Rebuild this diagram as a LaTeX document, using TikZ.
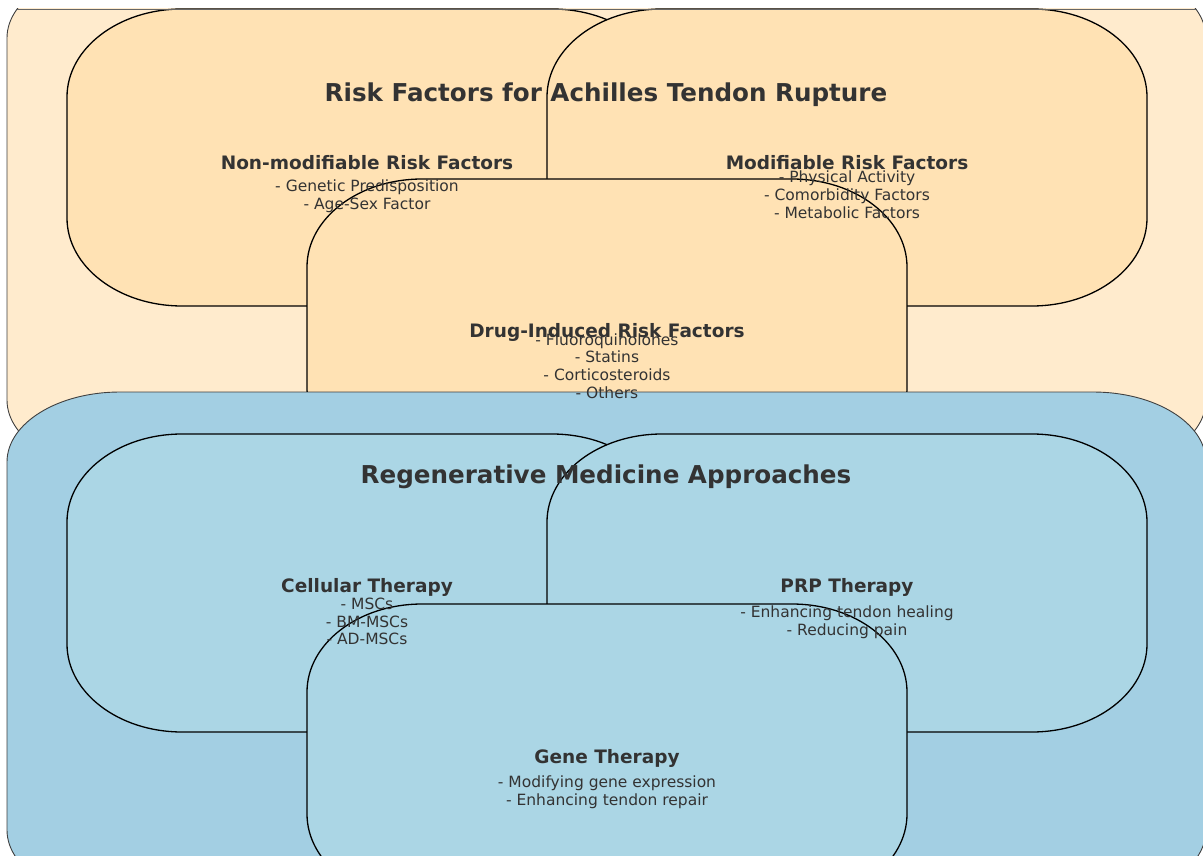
\documentclass[tikz,border=0pt]{standalone}
\usepackage{fontspec}
\setmainfont{DejaVu Sans}
\definecolor{orouter}{RGB}{255,235,205}
\definecolor{orinner}{RGB}{255,226,180}
\definecolor{blouter}{RGB}{163,207,227}
\definecolor{blinner}{RGB}{171,214,229}
\definecolor{ink}{RGB}{51,51,51}
% rounded box with elliptical corners: style, x1, y1, x2, y2, rx, ry
\newcommand\rbox[7]{%
  \path[#1] (#2+#6,#3) -- (#4-#6,#3)
    .. controls (#4-0.448*#6,#3) and (#4,#3+0.448*#7) .. (#4,#3+#7)
    -- (#4,#5-#7)
    .. controls (#4,#5-0.448*#7) and (#4-0.448*#6,#5) .. (#4-#6,#5)
    -- (#2+#6,#5)
    .. controls (#2+0.448*#6,#5) and (#2,#5-0.448*#7) .. (#2,#5-#7)
    -- (#2,#3+#7)
    .. controls (#2,#3+0.448*#7) and (#2+0.448*#6,#3) .. (#2+#6,#3) -- cycle;}
\begin{document}
\begin{tikzpicture}[x=1pt,y=-1pt,
  outerbox/.style={draw=black!75,line width=0.9pt},
  innerbox/.style={draw=black,line width=1.3pt},
  maintitle/.style={font=\bfseries\fontsize{24.6}{28}\selectfont,text=ink,inner sep=0pt},
  subtitle/.style={font=\bfseries\fontsize{18.5}{22}\selectfont,text=ink,inner sep=0pt},
  items/.style={font=\fontsize{15.5}{17.8}\selectfont,text=ink,align=center,inner sep=0pt}]
\useasboundingbox (0,0) rectangle (1203,856);
\fill[white] (0,0) rectangle (1203,856);
\begin{scope}
  \clip (0,9) rectangle (1203,856);
  % risk factor cluster
  \rbox{outerbox,fill=orouter}{7}{-32}{1206}{470}{113}{70}
  \rbox{innerbox,fill=orinner}{67}{9}{667}{306}{115}{88}
  \rbox{innerbox,fill=orinner}{547}{9}{1147}{306}{115}{88}
  \rbox{innerbox,fill=orinner}{307}{179}{907}{476}{115}{88}
  % regenerative medicine cluster
  \rbox{outerbox,fill=blouter}{7}{392}{1206}{900}{113}{70}
  \rbox{innerbox,fill=blinner}{67}{434}{667}{732}{115}{88}
  \rbox{innerbox,fill=blinner}{547}{434}{1147}{732}{115}{88}
  \rbox{innerbox,fill=blinner}{307}{604}{907}{902}{115}{88}
\end{scope}
\draw[black!60,line width=0.8pt] (17,9) -- (1196,9);

\node[maintitle] (rtitle) at (606,95) {Risk Factors for Achilles Tendon Rupture};
\node[subtitle] (nmtitle) at (367,162.5) {Non-modifiable Risk Factors};
\node[items] (nmitems) at (367,196) {- Genetic Predisposition\\- Age-Sex Factor};
\node[subtitle] (mtitle) at (847,162.5) {Modifiable Risk Factors};
\node[items] (mitems) at (847,194.5) {- Physical Activity\\- Comorbidity Factors\\- Metabolic Factors};
\node[subtitle] (dtitle) at (607,332.5) {Drug-Induced Risk Factors};
\node[items] (ditems) at (607,366) {- Fluoroquinolones\\- Statins\\- Corticosteroids\\- Others};

\node[maintitle] (gtitle) at (606,477) {Regenerative Medicine Approaches};
\node[subtitle] (ctitle) at (367,587.5) {Cellular Therapy};
\node[items] (citems) at (367,621.5) {- MSCs\\- BM-MSCs\\- AD-MSCs};
\node[subtitle] (ptitle) at (847,587.5) {PRP Therapy};
\node[items] (pitems) at (847,622) {- Enhancing tendon healing\\- Reducing pain};
\node[subtitle] (getitle) at (607,758.5) {Gene Therapy};
\node[items] (geitems) at (607,792) {- Modifying gene expression\\- Enhancing tendon repair};
\end{tikzpicture}
\end{document}
